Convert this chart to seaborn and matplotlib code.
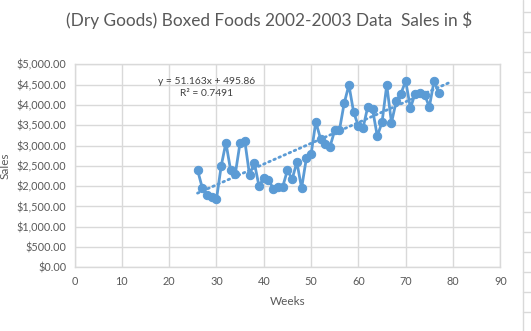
import numpy as np
import pandas as pd
import seaborn as sns
import matplotlib
matplotlib.use("Agg")
import matplotlib.pyplot as plt
from matplotlib.lines import Line2D
from matplotlib.ticker import FuncFormatter

# ---- data ----
weeks = list(range(26, 78))
sales = [2400, 1960, 1780, 1720, 1670, 2490, 3070, 2390, 2310, 3070,
         3110, 2270, 2580, 2000, 2200, 2160, 1940, 1970, 1980, 2390,
         2170, 2590, 1950, 2680, 2780, 3580, 3170, 3030, 2970, 3370,
         3380, 4040, 4490, 3820, 3480, 3440, 3960, 3890, 3230, 3570,
         4490, 3560, 4090, 4280, 4590, 3920, 4280, 4300, 4250, 3950,
         4590, 4290]
trend_slope = 51.163
trend_intercept = 495.86
trend_x = [26, 79]
title = "(Dry Goods) Boxed Foods 2002-2003 Data  Sales in $"
eq_text = "y = 51.163x + 495.86\nR² = 0.7491"
x_ticks = [0, 10, 20, 30, 40, 50, 60, 70, 80, 90]
y_ticks = [0, 500, 1000, 1500, 2000, 2500, 3000, 3500, 4000, 4500, 5000]

df = pd.DataFrame({"Weeks": weeks, "Sales": sales})

sns.set_theme(style="white")
plt.rcParams['font.family'] = ['Lato', 'DejaVu Sans']

W, H = 531, 331
fig = plt.figure(figsize=(W / 100, H / 100), dpi=100)
ax = fig.add_axes([74.5 / W, 1 - 267.3 / H, (500.3 - 74.5) / W, (267.3 - 64.3) / H])

blue = "#5B9BD5"
grid = "#D9D9D9"
txt = "#595959"

sns.lineplot(data=df, x="Weeks", y="Sales", ax=ax, color=blue, linewidth=2.0,
             marker="o", markersize=6, markeredgecolor=blue, markerfacecolor=blue,
             zorder=3)

tx = np.array(trend_x, dtype=float)
ax.plot(tx, trend_slope * tx + trend_intercept, color=blue, linewidth=2.0,
        linestyle=(0, (0.6, 1.4)), dash_capstyle="round", zorder=2)

ax.set_xlim(0, 90)
ax.set_ylim(0, 5000)
ax.set_xticks(x_ticks)
ax.set_yticks(y_ticks)
ax.yaxis.set_major_formatter(FuncFormatter(lambda v, p: "${:,.2f}".format(v)))
ax.grid(True, color=grid, linewidth=1.0)
ax.set_axisbelow(True)
for s in ax.spines.values():
    s.set_color(grid)
    s.set_linewidth(1.0)
ax.tick_params(axis="both", length=0, labelsize=7.8, colors=txt, pad=6)
ax.set_xlabel("Weeks", fontsize=8.5, color=txt, labelpad=7)
ax.set_ylabel("Sales", fontsize=8.5, color=txt, labelpad=4)

ax.text(28, 4430, eq_text, fontsize=7.4, color="#404040", ha="center",
        va="center", linespacing=1.45)

fig.text(269 / W, 1 - 20 / H, title, fontsize=12.4, color=txt, ha="center", va="center")

# spreadsheet cell borders at right edge
fig.add_artist(Line2D([523.3 / W, 523.3 / W], [0, 1], color=grid, linewidth=1.0,
                      transform=fig.transFigure))
for yy in range(12, 331, 20):
    fig.add_artist(Line2D([523.3 / W, 1], [1 - (yy + 0.3) / H] * 2, color=grid,
                          linewidth=1.0, transform=fig.transFigure))

fig.savefig("out.png", dpi=100, facecolor="white")
